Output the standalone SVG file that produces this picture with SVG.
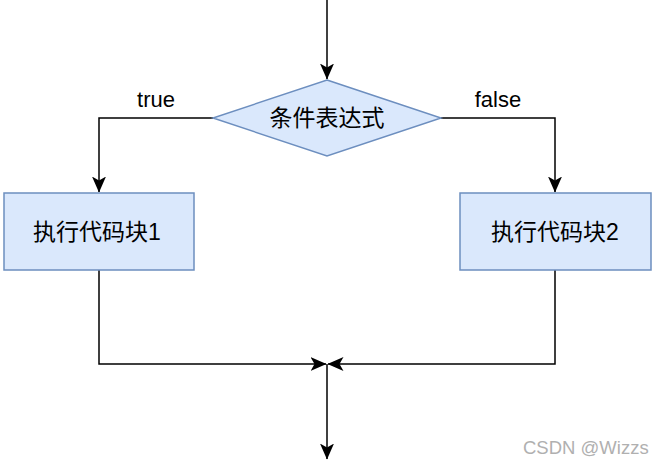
<svg xmlns="http://www.w3.org/2000/svg" width="656" height="465" viewBox="0 0 656 465">
<style>
.node{fill:#dae8fc;stroke:#6c8ebf;stroke-width:1.5}
.lbl{font-family:"Liberation Sans","Noto Sans CJK SC",sans-serif;font-size:23px;fill:#000;text-anchor:middle;dominant-baseline:central}
.edge{fill:none;stroke:#000;stroke-width:1.5}
.elbl{font-family:"Liberation Sans",sans-serif;font-size:22px;fill:#000;text-anchor:middle}
.wm{font-family:"Liberation Sans",sans-serif;font-size:18.5px;fill:#b0b0b0}
</style>
<defs>
<marker id="arr" viewBox="0 0 16 14" refX="15.5" refY="7" markerWidth="16" markerHeight="14" markerUnits="userSpaceOnUse" orient="auto">
<path d="M0,0 L16,7 L0,14 L4,7 Z" fill="#000"/>
</marker>
</defs>
<rect width="656" height="465" fill="#fff"/>
<g id="connectors">
<path class="edge" d="M327,0 V79" marker-end="url(#arr)"/>
<path class="edge" d="M213,118 H99 V192" marker-end="url(#arr)"/>
<path class="edge" d="M441,118 H555 V192" marker-end="url(#arr)"/>
<path class="edge" d="M99,270 V364 H326" marker-end="url(#arr)"/>
<path class="edge" d="M555,270 V364 H328" marker-end="url(#arr)"/>
<path class="edge" d="M327,364 V459" marker-end="url(#arr)"/>
<text class="elbl" x="156" y="107">true</text>
<text class="elbl" x="498" y="107">false</text>
</g>
<g id="cond">
<polygon class="node" points="327,80 441,118 327,156 213,118"/>
<text class="lbl" x="327" y="118">条件表达式</text>
</g>
<g id="block1">
<rect class="node" x="4" y="193" width="190" height="77"/>
<text class="lbl" x="97" y="232">执行代码块1</text>
</g>
<g id="block2">
<rect class="node" x="460" y="193" width="191" height="77"/>
<text class="lbl" x="555" y="232">执行代码块2</text>
</g>
<text class="wm" x="523" y="454">CSDN @Wizzs</text>
</svg>
